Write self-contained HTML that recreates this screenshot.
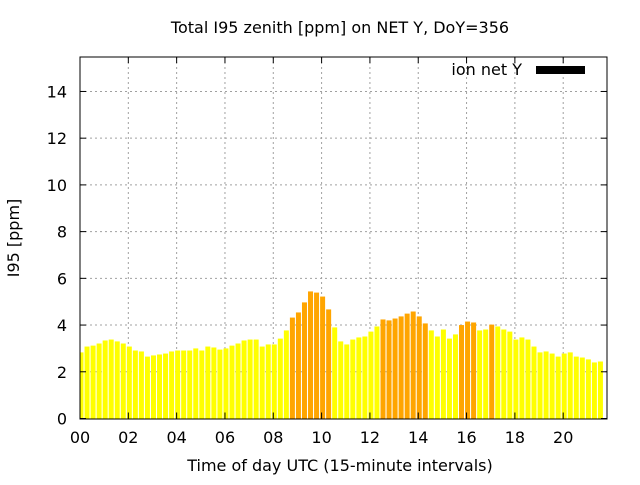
<!DOCTYPE html>
<html><head><meta charset="utf-8"><style>
body{margin:0;background:#fff;}
svg text{font-family:"DejaVu Sans","Liberation Sans",sans-serif;font-size:16px;fill:#000;}
</style></head><body>
<svg id="chart" width="640" height="480" xmlns="http://www.w3.org/2000/svg">
<rect width="640" height="480" fill="#fff"/>
<text x="340" y="33" text-anchor="middle">Total I95 zenith [ppm] on NET Y, DoY=356</text>
<text x="340" y="471" text-anchor="middle">Time of day UTC (15-minute intervals)</text>
<text transform="translate(19,238) rotate(-90)" text-anchor="middle">I95 [ppm]</text>
<defs><clipPath id="pc"><rect x="80" y="57" width="527" height="362"/></clipPath></defs>
<g id="grid"></g>
<g id="bars" clip-path="url(#pc)"></g>
<g id="axes"></g>
<text x="522" y="75" text-anchor="end">ion net Y</text>
<rect x="536" y="66" width="49" height="8" fill="#000"/>
<rect x="80" y="57" width="527" height="362" fill="none" stroke="#000" stroke-width="1"/>
</svg>
<script>
const values=[2.83,3.08,3.12,3.21,3.34,3.38,3.30,3.21,3.08,2.91,2.87,2.65,2.70,2.74,2.78,2.87,2.91,2.91,2.91,3.0,2.91,3.08,3.04,2.95,3.0,3.12,3.21,3.34,3.38,3.38,3.08,3.17,3.17,3.42,3.77,4.32,4.54,4.97,5.44,5.39,5.22,4.67,3.90,3.30,3.17,3.38,3.47,3.51,3.72,3.94,4.24,4.20,4.28,4.37,4.49,4.58,4.37,4.07,3.77,3.51,3.81,3.42,3.60,4.0,4.15,4.11,3.77,3.81,4.02,3.94,3.81,3.72,3.38,3.47,3.38,3.08,2.83,2.87,2.78,2.65,2.78,2.83,2.65,2.61,2.53,2.40,2.44];
const yTicks=[0,2,4,6,8,10,12,14];
const xTickHours=[0,2,4,6,8,10,12,14,16,18,20];
const xTickLabels=["00","02","04","06","08","10","12","14","16","18","20"];
const NS="http://www.w3.org/2000/svg";
const X0=80,X1=607,Y0=418.5,pxPerUnit=23.36,pxPerSlot=6.04;
function ys(v){return Y0-v*pxPerUnit;}
function xs(slot){return X0+1+slot*pxPerSlot;}
function mk(t,a,p){const e=document.createElementNS(NS,t);for(const k in a)e.setAttribute(k,a[k]);p.appendChild(e);return e;}
const grid=document.getElementById('grid'),axes=document.getElementById('axes'),bars=document.getElementById('bars');
yTicks.forEach(v=>{
  const y=ys(v);
  if(v>0){const g=mk('line',{x1:X0,x2:X1,y1:y,y2:y,stroke:'#a0a0a0','stroke-dasharray':'2,3'},grid);
  
  }
  mk('line',{x1:X0,x2:X0+6,y1:y,y2:y,stroke:'#000'},axes);
  mk('line',{x1:X1-6,x2:X1,y1:y,y2:y,stroke:'#000'},axes);
  const t=mk('text',{x:X0-13,y:y+6,'text-anchor':'end'},axes);t.textContent=v;
  
  
});
xTickHours.forEach((h,i)=>{
  const x=X0+h*4*pxPerSlot;
  if(h>0){const g=mk('line',{x1:x,x2:x,y1:57,y2:Y0,stroke:'#a0a0a0','stroke-dasharray':'2,3'},grid);
  
  }
  mk('line',{x1:x,x2:x,y1:Y0,y2:Y0-6,stroke:'#000'},axes);
  mk('line',{x1:x,x2:x,y1:57,y2:63,stroke:'#000'},axes);
  const t=mk('text',{x:x,y:443,'text-anchor':'middle'},axes);t.textContent=xTickLabels[i];
  
  
});
values.forEach((v,i)=>{
  const c=xs(i);
  const r=mk('rect',{x:c-2.5,y:ys(v),width:5,height:Y0-ys(v),fill:v>=4?'#ffa500':'#ffff00'},bars);
  
  
});
</script>
</body></html>
